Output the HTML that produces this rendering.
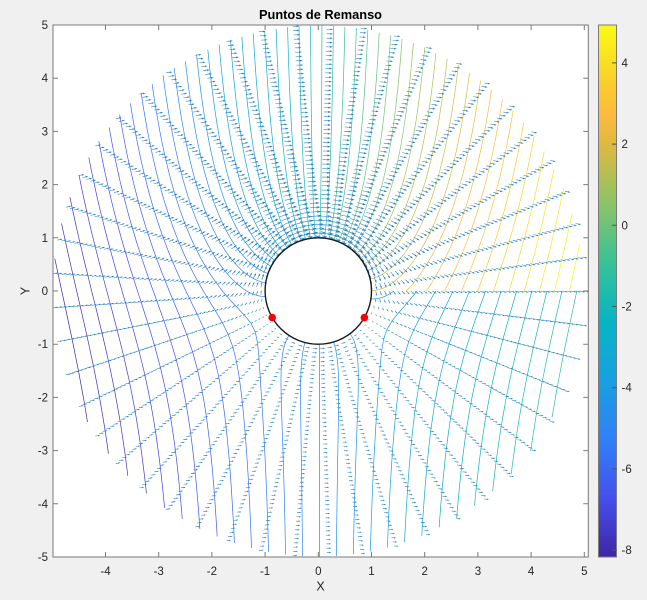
<!DOCTYPE html>
<html>
<head>
<meta charset="utf-8">
<style>
html,body{margin:0;padding:0;background:#f0f0f0;}
svg{display:block;font-family:"Liberation Sans",Arial,sans-serif;}
</style>
</head>
<body>
<svg id="s" width="647" height="600" viewBox="0 0 647 600" xmlns="http://www.w3.org/2000/svg">
<rect x="0" y="0" width="647" height="600" fill="#f0f0f0"/>
<defs>
<clipPath id="ax"><rect x="53" y="25" width="535.3" height="532"/></clipPath>
<linearGradient id="cb" x1="0" y1="1" x2="0" y2="0">
<stop offset="0" stop-color="rgb(62,38,168)"/>
<stop offset="0.111" stop-color="rgb(69,80,236)"/>
<stop offset="0.222" stop-color="rgb(48,129,248)"/>
<stop offset="0.333" stop-color="rgb(23,161,224)"/>
<stop offset="0.444" stop-color="rgb(7,181,195)"/>
<stop offset="0.556" stop-color="rgb(57,194,150)"/>
<stop offset="0.667" stop-color="rgb(142,195,101)"/>
<stop offset="0.778" stop-color="rgb(223,186,62)"/>
<stop offset="0.833" stop-color="rgb(252,187,62)"/>
<stop offset="0.889" stop-color="rgb(250,205,45)"/>
<stop offset="1" stop-color="rgb(249,251,20)"/>
</linearGradient>
</defs>

<rect x="53" y="25" width="535.3" height="532" fill="#ffffff"/>
<g id="plot" clip-path="url(#ax)" fill="none"></g>

<circle cx="318.3" cy="291" r="53.2" fill="none" stroke="#1a1a1a" stroke-width="1.4"/>
<circle cx="272.2" cy="317.6" r="3.8" fill="#ff0000"/>
<circle cx="364.4" cy="317.6" r="3.8" fill="#ff0000"/>

<rect x="53" y="25" width="535.3" height="532" fill="none" stroke="#7a7a7a" stroke-width="1"/>

<g stroke="#7a7a7a" stroke-width="1">
<path d="M105.5,557v-5M158.7,557v-5M211.9,557v-5M265.1,557v-5M318.3,557v-5M371.5,557v-5M424.7,557v-5M477.9,557v-5M531.1,557v-5M584.3,557v-5"/>
<path d="M105.5,25v5M158.7,25v5M211.9,25v5M265.1,25v5M318.3,25v5M371.5,25v5M424.7,25v5M477.9,25v5M531.1,25v5M584.3,25v5"/>
<path d="M53,78.2h5M53,131.4h5M53,184.6h5M53,237.8h5M53,291h5M53,344.2h5M53,397.4h5M53,450.6h5M53,503.8h5"/>
<path d="M588.3,78.2h-5M588.3,131.4h-5M588.3,184.6h-5M588.3,237.8h-5M588.3,291h-5M588.3,344.2h-5M588.3,397.4h-5M588.3,450.6h-5M588.3,503.8h-5"/>
</g>

<g font-size="11.5" fill="#262626" text-anchor="middle">
<text x="105.5" y="575">-4</text>
<text x="158.7" y="575">-3</text>
<text x="211.9" y="575">-2</text>
<text x="265.1" y="575">-1</text>
<text x="318.3" y="575">0</text>
<text x="371.5" y="575">1</text>
<text x="424.7" y="575">2</text>
<text x="477.9" y="575">3</text>
<text x="531.1" y="575">4</text>
<text x="584.3" y="575">5</text>
</g>
<g font-size="11.5" fill="#262626" text-anchor="end">
<text x="48" y="29">5</text>
<text x="48" y="82.2">4</text>
<text x="48" y="135.4">3</text>
<text x="48" y="188.6">2</text>
<text x="48" y="241.8">1</text>
<text x="48" y="295">0</text>
<text x="48" y="348.2">-1</text>
<text x="48" y="401.4">-2</text>
<text x="48" y="454.6">-3</text>
<text x="48" y="507.8">-4</text>
<text x="48" y="561">-5</text>
</g>

<text x="320.5" y="590.5" font-size="12.5" fill="#262626" text-anchor="middle">X</text>
<text transform="translate(29.5,291) rotate(-90)" x="0" y="0" font-size="12.5" fill="#262626" text-anchor="middle">Y</text>

<text x="320.5" y="19" font-size="12.8" font-weight="bold" fill="#000" text-anchor="middle">Puntos de Remanso</text>

<rect x="598.5" y="25" width="18" height="532" fill="url(#cb)" stroke="#7a7a7a" stroke-width="1"/>
<g stroke="#555" stroke-width="1">
<path d="M616.5,62.9h-4.5M616.5,144.1h-4.5M616.5,225.3h-4.5M616.5,306.5h-4.5M616.5,387.7h-4.5M616.5,468.9h-4.5M616.5,550.1h-4.5"/>
</g>
<g font-size="11.5" fill="#262626" text-anchor="start">
<text x="621.5" y="66.9">4</text>
<text x="621.5" y="148.1">2</text>
<text x="621.5" y="229.3">0</text>
<text x="621.5" y="310.5">-2</text>
<text x="621.5" y="391.7">-4</text>
<text x="621.5" y="472.9">-6</text>
<text x="621.5" y="554.1">-8</text>
</g>
</svg>

<script>
(function(){
var X0=318.3,Y0=291,S=53.2;
function px(x){return X0+S*x;}
function py(y){return Y0-S*y;}
var PA=[[0,62,38,168],[0.111,69,80,236],[0.222,48,129,248],[0.333,23,161,224],[0.444,7,181,195],[0.556,57,194,150],[0.667,142,195,101],[0.778,223,186,62],[0.833,252,187,62],[0.889,250,205,45],[1,249,251,20]];
function parula(f){
  if(f<0)f=0;if(f>1)f=1;
  for(var q=0;q<PA.length-1;q++){
    var a=PA[q],b=PA[q+1];
    if(f<=b[0]){
      var t=(f-a[0])/(b[0]-a[0]);
      return "rgb("+Math.round(a[1]+t*(b[1]-a[1]))+","+Math.round(a[2]+t*(b[2]-a[2]))+","+Math.round(a[3]+t*(b[3]-a[3]))+")";
    }
  }
  return "rgb(249,251,20)";
}
function f2(p){return p[0].toFixed(2)+","+p[1].toFixed(2);}
var M=50,N=50,i,j,k;
var R=[],T=[];
for(i=0;i<M;i++)R.push(1+4*i/(M-1));
for(j=0;j<N;j++)T.push(2*Math.PI*j/(N-1));
var F=[],GX=[],GY=[];
var zmin=1e9,zmax=-1e9;
for(i=0;i<M;i++){
  F.push([]);GX.push([]);GY.push([]);
  for(j=0;j<N;j++){
    var r=R[i],t=T[j];
    var x=r*Math.cos(t),y=r*Math.sin(t);
    var f=(r+1/r)*Math.cos(t)-t;
    F[i].push(f);GX[i].push(x);GY[i].push(y);
    if(f<zmin)zmin=f;if(f>zmax)zmax=f;
  }
}
var NL=50,lev=[];
for(k=1;k<=NL;k++)lev.push(zmin+k*(zmax-zmin)/(NL+1));
var lmin=lev[0],lmax=lev[NL-1];
var out=[];
for(k=0;k<NL;k++){
  var c=lev[k],d="";
  for(i=0;i<M-1;i++){
    for(j=0;j<N-1;j++){
      var ci=[i,i+1,i+1,i],cj=[j,j,j+1,j+1];
      var pts=[];
      for(var e=0;e<4;e++){
        var a=e,b=(e+1)%4;
        var fa=F[ci[a]][cj[a]],fb=F[ci[b]][cj[b]];
        if((fa>=c)!=(fb>=c)){
          var tt=(c-fa)/(fb-fa);
          var xa=GX[ci[a]][cj[a]],ya=GY[ci[a]][cj[a]],xb=GX[ci[b]][cj[b]],yb=GY[ci[b]][cj[b]];
          pts.push([px(xa+tt*(xb-xa)),py(ya+tt*(yb-ya))]);
        }
      }
      if(pts.length>=2)d+="M"+f2(pts[0])+"L"+f2(pts[1]);
      if(pts.length==4)d+="M"+f2(pts[2])+"L"+f2(pts[3]);
    }
  }
  if(d)out.push('<path d="'+d+'" stroke="'+parula((c-lmin)/(lmax-lmin))+'" stroke-width="0.7"/>');
}
var U=[],V=[],maxs=0,xmn=1e9,xmx=-1e9,ymn=1e9,ymx=-1e9;
for(i=0;i<M;i++){
  U.push([]);V.push([]);
  for(j=0;j<N;j++){
    var r2=R[i],t2=T[j];
    var ur=(1-1/(r2*r2))*Math.cos(t2);
    var ut=-(1+1/(r2*r2))*Math.sin(t2)-1/r2;
    var u=ur*Math.cos(t2)-ut*Math.sin(t2);
    var v=ur*Math.sin(t2)+ut*Math.cos(t2);
    U[i].push(u);V[i].push(v);
    var sp=Math.sqrt(u*u+v*v);if(sp>maxs)maxs=sp;
    var gx=GX[i][j],gy=GY[i][j];
    if(gx<xmn)xmn=gx;if(gx>xmx)xmx=gx;if(gy<ymn)ymn=gy;if(gy>ymx)ymx=gy;
  }
}
var delx=(xmx-xmn)/N,dely=(ymx-ymn)/M;
var sc=0.9*Math.sqrt(delx*delx+dely*dely)/maxs;
var alpha=0.33,beta=0.33,q="";
for(i=0;i<M;i++){
  for(j=0;j<N;j++){
    var x0=GX[i][j],y0=GY[i][j];
    var uu=U[i][j]*sc,vv=V[i][j]*sc;
    var tx=x0+uu,ty=y0+vv;
    var h1x=tx-alpha*(uu+beta*vv),h1y=ty-alpha*(vv-beta*uu);
    var h2x=tx-alpha*(uu-beta*vv),h2y=ty-alpha*(vv+beta*uu);
    q+="M"+f2([px(x0),py(y0)])+"L"+f2([px(tx),py(ty)])+"M"+f2([px(h1x),py(h1y)])+"L"+f2([px(tx),py(ty)])+"L"+f2([px(h2x),py(h2y)]);
  }
}
out.push('<path d="'+q+'" stroke="#1f7ec6" stroke-width="0.55"/>');
document.getElementById("plot").innerHTML=out.join("");
})();
</script>
</body>
</html>
